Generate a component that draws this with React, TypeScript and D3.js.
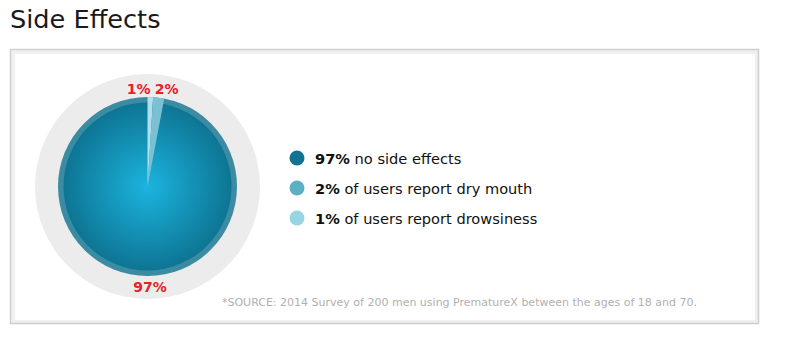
import React from "react";
import * as d3 from "d3";

const categories = ["drowsiness", "dry mouth", "no side effects"];
const values = [1, 2, 97];
const sliceColors = ["#b9e4ee", "#7fc4d5", "url(#pieGrad)"];
const legendColors = ["#0f7391", "#5cb0c4", "#98d5e3"];
const legendBold = ["97%", "2%", "1%"];
const legendText = [" no side effects", " of users report dry mouth", " of users report drowsiness"];
const title = "Side Effects";
const source = "*SOURCE: 2014 Survey of 200 men using PrematureX between the ages of 18 and 70.";

const FONT = "'DejaVu Sans', 'Open Sans', sans-serif";

export default function App() {
  const cx = 147.5, cy = 186.5;
  const rOuterGray = 112.5;
  const rPie = 89.5;
  const rInner = 84;

  const pie = d3.pie<number>().sort(null).value((d) => d).startAngle(0).endAngle(2 * Math.PI);
  const arcs = pie(values);
  const arcGen = d3.arc<d3.PieArcDatum<number>>().innerRadius(0).outerRadius(rPie);

  const labelR = 98;
  const legendY = d3.scalePoint<number>().domain([0, 1, 2]).range([158, 218]);

  return (
    <svg width={793} height={337} style={{ position: "absolute", left: 0, top: 0 }} fontFamily={FONT}>
      <defs>
        <radialGradient id="pieGrad" cx="0.5" cy="0.5" r="0.5">
          <stop offset="0%" stopColor="#1bb4de" />
          <stop offset="100%" stopColor="#0e7594" />
        </radialGradient>
      </defs>
      <rect width={793} height={337} fill="#fff" />
      <text x={10} y={27.5} fontSize={25.6} fill="#1a1a1a">{title}</text>
      <rect x={10.5} y={49.5} width={748} height={274} fill="#f0f0f0" stroke="#cfcfcf" strokeWidth={1.5} />
      <rect x={15} y={54} width={740} height={266} fill="#ffffff" />

      <circle cx={cx} cy={cy} r={rOuterGray} fill="#ececec" />
      <circle cx={cx} cy={cy} r={rPie} fill="#3b8ba2" />
      <circle cx={cx} cy={cy} r={rInner} fill="url(#pieGrad)" />
      <g transform={`translate(${cx},${cy})`}>
        {arcs.map((a, i) =>
          i < 2 ? <path key={i} d={arcGen(a) || ""} fill={sliceColors[i]} opacity={0.95} /> : null
        )}
      </g>
      {arcs.map((a, i) => {
        const mid = (a.startAngle + a.endAngle) / 2;
        let x = cx + labelR * Math.sin(mid);
        let y = cy - labelR * Math.cos(mid) + 0;
        let anchor: "start" | "end" | "middle" = "middle";
        if (i === 0) { anchor = "end"; y = cy - labelR + 5; }
        if (i === 1) { anchor = "start"; x -= 5; y = cy - labelR + 5; }
        if (i === 2) { x = cx + 2.5; y = cy + rPie + 16; }
        return (
          <text key={i} x={x} y={y} textAnchor={anchor} fontSize={14} fontWeight="bold" fill="#e52226">
            {values[i]}%
          </text>
        );
      })}

      {legendBold.map((b, i) => (
        <g key={i}>
          <circle cx={297} cy={legendY(i)!} r={7.5} fill={legendColors[i]} />
          <text x={315} y={legendY(i)! + 5.5} fontSize={14.6} fill="#111">
            <tspan fontWeight="bold">{b}</tspan>
            <tspan>{legendText[i]}</tspan>
          </text>
        </g>
      ))}

      <text x={697} y={306} textAnchor="end" fontSize={11} fill="#b0b0b0">{source}</text>
    </svg>
  );
}
